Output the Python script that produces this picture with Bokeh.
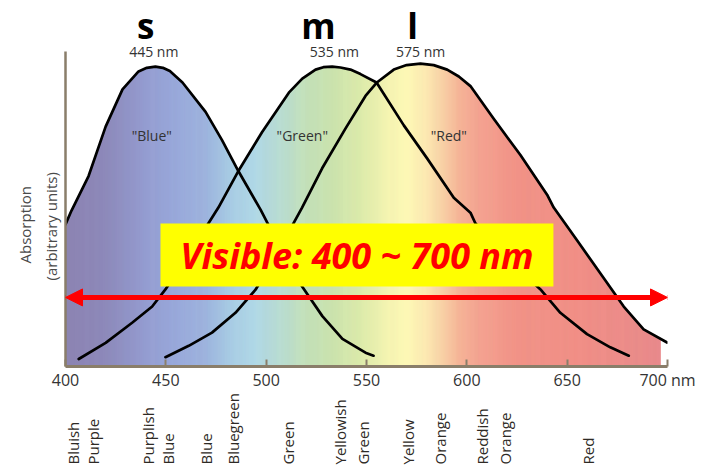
import numpy as np
from bokeh.plotting import figure
from bokeh.layouts import column
from bokeh.models import (Range1d, FixedTicker, Label, LabelSet, ColumnDataSource,
                          BoxAnnotation, Arrow, NormalHead, Title)
from bokeh.embed import file_html
from bokeh.resources import INLINE
from bokeh.core.properties import value

# ---------------- data ----------------
# S cone (peak 445 nm)
s_wl = [400, 403, 411.5, 420, 428.4, 436.4, 440.5, 444.8, 448.5, 452, 458.3, 469.8, 478,
        486.2, 497.2, 501, 510, 518, 528, 538, 549.5, 553.5]
s_abs = [0.474, 0.52, 0.635, 0.80, 0.924, 0.984, 0.996, 1.0, 0.996, 0.985, 0.947, 0.849,
         0.755, 0.651, 0.523, 0.474, 0.36, 0.266, 0.168, 0.092, 0.046, 0.036]
# M cone (peak 535 nm)
m_wl = [406.6, 420, 433.2, 443.2, 449.8, 463, 476.2, 486, 498, 511.3, 518, 524.6, 528.5,
        532.9, 537, 542, 547, 555, 568.6, 580.2, 593.5, 601.8, 604.3, 620, 636.7, 646.6,
        659.9, 671.5, 680.7]
m_abs = [0.025, 0.079, 0.146, 0.2, 0.257, 0.39, 0.53, 0.65, 0.782, 0.913, 0.96, 0.99, 0.998,
         1.0, 0.997, 0.99, 0.975, 0.947, 0.804, 0.694, 0.5625, 0.513, 0.477, 0.36, 0.257,
         0.179, 0.108, 0.064, 0.036]
# L cone (peak 575 nm)
l_wl = [449.8, 461.4, 473, 484.7, 494.7, 505, 513.6, 517.9, 527.9, 539.5, 549.5, 555,
        563.6, 570, 576.9, 583.5, 590.2, 596, 601.8, 613.4, 626.7, 640, 643.3, 655, 666.6,
        678.2, 688.1, 699.8]
l_abs = [0.031, 0.069, 0.113, 0.179, 0.256, 0.37, 0.477, 0.53, 0.661, 0.793, 0.902, 0.946,
         0.99, 1.005, 1.01, 1.005, 0.99, 0.967, 0.935, 0.826, 0.705, 0.573, 0.53, 0.42, 0.31,
         0.2, 0.124, 0.08]

cone_curves = [(s_wl, s_abs), (m_wl, m_abs), (l_wl, l_abs)]
cone_names = ["s", "m", "l"]
cone_name_wl = [440, 526, 573]
peak_wl = [444, 534, 577]
peak_labels = ["445 nm", "535 nm", "575 nm"]
cone_color_labels = ['"Blue"', '"Green"', '"Red"']
cone_color_wl = [443, 518, 591]

x_ticks = [400, 450, 500, 550, 600, 650, 700]
x_tick_labels = ["400", "450", "500", "550", "600", "650", "700 nm"]

hue_names = ["Bluish", "Purple", "Purplish", "Blue", "Blue", "Bluegreen", "Green",
             "Yellowish", "Green", "Yellow", "Orange", "Reddish", "Orange", "Red"]
hue_wl = [403.5, 413.5, 440.9, 451.3, 469.8, 483.7, 511.1,
          537, 548.5, 570.9, 586.8, 607.8, 619.2, 660.6]

y_title_lines = ["Absorption", "(arbitrary units)"]

visible_start, visible_end = 400, 700
spectrum_end = 696.5

# spectrum colour stops (style)
spec_wl = [400, 420, 440, 455, 470, 482, 495, 508, 520, 535, 550, 562, 570, 580, 588,
           596, 606, 625, 660, 697]
spec_hex = ["#8a82b0", "#8a86b8", "#929ad0", "#98a8da", "#9eb4de", "#a8cce4", "#b0d8e6",
            "#b8dcd0", "#c2e0b8", "#cce4aa", "#e0ecaa", "#f6f4b0", "#fdf8b4", "#fce8b0",
            "#f8d0a4", "#f6b496", "#f4a290", "#f29488", "#f08c84", "#e8888a"]

# ---------------- layout constants (window pixels) ----------------
W = 716
H_TOP, H_BOT = 393, 72
LEFT, BOTTOM_FRAME = 65, 371
PX_NM, PX_UNIT = 2.007, 304.0
frame_w = (700 - 400) * PX_NM
RIGHT_BORDER = int(round(W - LEFT - frame_w))
y_top = BOTTOM_FRAME / PX_UNIT


def ay(win_y):
    return (BOTTOM_FRAME - win_y) / PX_UNIT


def wx(win_x):
    return 400 + (win_x - LEFT) / PX_NM


p = figure(width=W, height=H_TOP, x_range=Range1d(400, 700), y_range=Range1d(0, y_top),
           output_backend="svg", toolbar_location=None,
           min_border_left=LEFT, min_border_right=RIGHT_BORDER,
           min_border_top=0, min_border_bottom=H_TOP - BOTTOM_FRAME)
p.grid.visible = False
p.outline_line_color = None
p.background_fill_color = "white"
p.border_fill_color = "white"

AX_COL = "#8a7e6a"
TXT = "#333333"

xa = p.xaxis[0]
xa.ticker = FixedTicker(ticks=x_ticks)
xa.major_label_overrides = {t: lab for t, lab in zip(x_ticks, x_tick_labels)}
xa.bounds = (400, 700)
xa.axis_line_color = AX_COL
xa.axis_line_width = 3
xa.major_tick_line_color = AX_COL
xa.major_tick_line_width = 2
xa.major_tick_in = 7
xa.major_tick_out = 0
xa.minor_tick_line_color = None
xa.major_label_text_font = "Open Sans"
xa.major_label_text_font_size = "16px"
xa.major_label_text_color = TXT
xa.major_label_standoff = 2

ya = p.yaxis[0]
ya.ticker = FixedTicker(ticks=[])
ya.bounds = (0, ay(52))
ya.axis_line_color = AX_COL
ya.axis_line_width = 2.5
ya.major_tick_line_color = None
ya.minor_tick_line_color = None
ya.major_tick_out = 0
ya.major_tick_in = 0
ya.major_label_standoff = 0
ya.major_label_text_font_size = "0px"

# y axis title as two stacked side titles (inner line first); text starts at given y
for t, start_y, so in [(y_title_lines[1], 285, 9), (y_title_lines[0], 268, 0)]:
    p.add_layout(Title(text=t, align="left", offset=BOTTOM_FRAME - start_y, standoff=so,
                       text_font="Open Sans", text_font_size="15px",
                       text_font_style="normal", text_color="#4a4a4a"), "left")

# ---------------- spectrum fill under the envelope ----------------
grid = np.arange(400, spectrum_end + 1e-9, 0.5)
env = np.maximum.reduce([np.interp(grid, w, a, left=0, right=0) for w, a in cone_curves])
rgb = np.array([[int(h[i:i + 2], 16) for i in (1, 3, 5)] for h in spec_hex], dtype=float)
xs, ys, cols = [], [], []
for i in range(len(grid) - 1):
    c = grid[i] + 0.25
    r, g, b = (np.interp(c, spec_wl, rgb[:, k]) for k in range(3))
    cols.append("#%02x%02x%02x" % (int(r), int(g), int(b)))
    xs.append([grid[i], grid[i + 1], grid[i + 1], grid[i]])
    ys.append([0, 0, env[i + 1], env[i]])
p.patches(xs=xs, ys=ys, fill_color=cols, line_color=cols, line_width=0.7)

# ---------------- cone curves ----------------
for w, a in cone_curves:
    p.line(w, a, line_color="black", line_width=2.7, line_join="round", line_cap="round")

# ---------------- texts ----------------
src_peaks = ColumnDataSource(dict(x=peak_wl, y=[ay(52)] * 3, t=peak_labels))
p.add_layout(LabelSet(x="x", y="y", text="t", source=src_peaks, text_align="center",
                      text_baseline="middle", text_font=value("Open Sans"),
                      text_font_size="14px", text_color=TXT))

src_names = ColumnDataSource(dict(x=cone_name_wl, y=[ay(39)] * 3, t=cone_names))
p.add_layout(LabelSet(x="x", y="y", text="t", source=src_names, text_align="center",
                      text_baseline="alphabetic", text_font=value("Open Sans"),
                      text_font_style="bold", text_font_size="35px", text_color="black"))

src_cc = ColumnDataSource(dict(x=cone_color_wl, y=[ay(137)] * 3, t=cone_color_labels))
p.add_layout(LabelSet(x="x", y="y", text="t", source=src_cc, text_align="center",
                      text_baseline="middle", text_font=value("Open Sans"),
                      text_font_size="14px", text_color=TXT))

# visible band box and arrow
box_l, box_r = wx(160), wx(553)
box_t, box_b = ay(226), ay(290)
p.add_layout(BoxAnnotation(left=box_l, right=box_r, top=box_t, bottom=box_b,
                           fill_color="#ffff00", fill_alpha=1.0, line_color=None))
p.add_layout(Label(x=(box_l + box_r) / 2, y=(box_t + box_b) / 2,
                   text="Visible: %d ~ %d nm" % (visible_start, visible_end),
                   text_align="center", text_baseline="middle", text_font="Open Sans",
                   text_font_style="bold italic", text_font_size="36px",
                   text_color="#ff0000"))
arrow_y = ay(301)
p.add_layout(Arrow(x_start=visible_start, x_end=visible_end, y_start=arrow_y, y_end=arrow_y,
                   line_color="#ff0000", line_width=5,
                   start=NormalHead(size=17, fill_color="#ff0000", line_color="#ff0000"),
                   end=NormalHead(size=17, fill_color="#ff0000", line_color="#ff0000")))

# ---------------- hue names strip below the axis ----------------
p2 = figure(width=W, height=H_BOT, x_range=p.x_range, y_range=Range1d(0, H_BOT),
            x_axis_type=None, y_axis_type=None, output_backend="svg",
            toolbar_location=None, min_border_left=LEFT, min_border_right=RIGHT_BORDER,
            min_border_top=0, min_border_bottom=0)
p2.grid.visible = False
p2.outline_line_color = None
p2.background_fill_color = "white"
p2.border_fill_color = "white"
p2.text(x=hue_wl, y=[1] * len(hue_wl), text=hue_names, angle=np.pi / 2,
        text_align="left", text_baseline="middle", text_font=value("Open Sans"),
        text_font_size="15px", text_color="#2e2a25")

page = column(p, p2, spacing=0)
open("out.html", "w").write(file_html(page, INLINE))
